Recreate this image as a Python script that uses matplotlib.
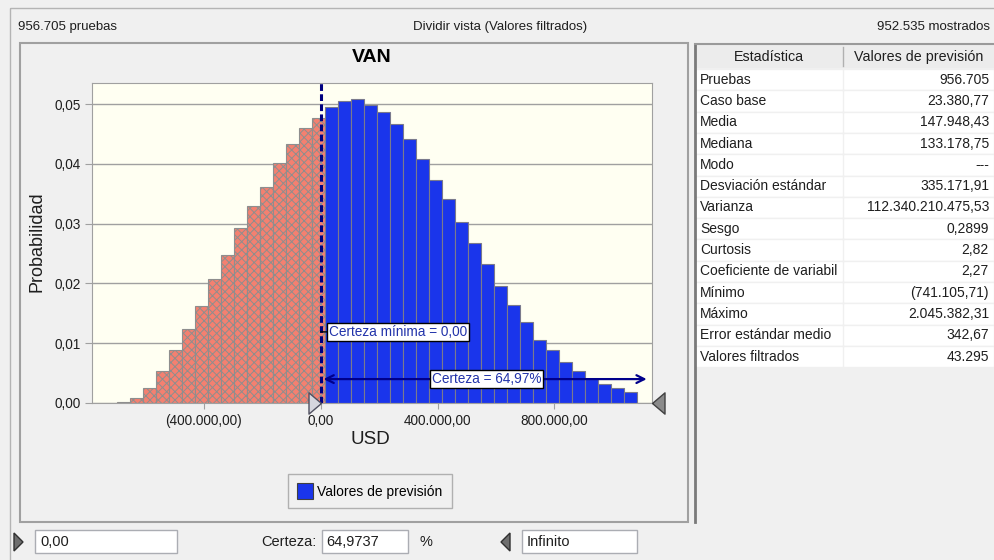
import matplotlib.pyplot as plt
from matplotlib.patches import Rectangle, Polygon, Patch

plt.rcParams['font.family'] = ['Liberation Sans', 'DejaVu Sans']
plt.rcParams['hatch.linewidth'] = 0.7

# --- datos ---
bin_start = -696500
bin_width = 44500
prob_fuera = [0.0001, 0.0008, 0.0025, 0.0054, 0.0088, 0.0123, 0.0163, 0.0207,
              0.0247, 0.0293, 0.0330, 0.0362, 0.0402, 0.0433, 0.0460, 0.0477]
prob_dentro = [0.0495, 0.0505, 0.0508, 0.0498, 0.0487, 0.0467, 0.0441, 0.0408,
               0.0374, 0.0341, 0.0303, 0.0267, 0.0232, 0.0196, 0.0164, 0.0135,
               0.0106, 0.0088, 0.0069, 0.0054, 0.0040, 0.0032, 0.0025, 0.0018]
x_ticks = [-400000, 0, 400000, 800000]
x_tick_labels = ["(400.000,00)", "0,00", "400.000,00", "800.000,00"]
y_ticks = [0.0, 0.01, 0.02, 0.03, 0.04, 0.05]
y_tick_labels = ["0,00", "0,01", "0,02", "0,03", "0,04", "0,05"]
x_lim = (-784000, 1135000)
y_lim = (0, 0.0536)
certeza_min = 0.0
certeza_texto = "Certeza = 64,97%"

stat_names = ["Pruebas", "Caso base", "Media", "Mediana", "Modo",
              "Desviación estándar", "Varianza", "Sesgo", "Curtosis",
              "Coeficiente de variabil", "Mínimo", "Máximo",
              "Error estándar medio", "Valores filtrados"]
stat_values = ["956.705", "23.380,77", "147.948,43", "133.178,75", "---",
               "335.171,91", "112.340.210.475,53", "0,2899", "2,82", "2,27",
               "(741.105,71)", "2.045.382,31", "342,67", "43.295"]

ROJO = '#F48070'
AZUL = '#1A35EB'
GRIS = '#A0A0A0'
TXT = '#1E1E1E'

fig = plt.figure(figsize=(9.94, 5.6), dpi=100)
fig.patch.set_facecolor('#F0F0F0')

# capa de fondo en pixeles para el marco de la ventana
ov = fig.add_axes([0, 0, 1, 1], zorder=0)
ov.set_xlim(0, 994)
ov.set_ylim(560, 0)
ov.axis('off')

ov.add_patch(Rectangle((10, 8), 990, 560, fill=False, ec='#B4B4B4', lw=1))
ov.add_patch(Rectangle((20, 43), 668, 479, fc='#F0F0F0', ec=GRIS, lw=1.5))

ov.text(18, 27, "956.705 pruebas", fontsize=9.5, va='center', color=TXT)
ov.text(500, 27, "Dividir vista (Valores filtrados)", fontsize=9.5,
        va='center', ha='center', color=TXT)
ov.text(990, 27, "952.535 mostrados", fontsize=9.5, va='center', ha='right',
        color=TXT)

# tabla de estadisticas
tab_x0, tab_x1, col_x = 695, 994, 843
ov.add_patch(Rectangle((tab_x0, 44), tab_x1 - tab_x0, 24, fc='#ECECEC',
                       ec='none'))
ov.plot([col_x, col_x], [47, 66], color='#B0B0B0', lw=1)
ov.text((tab_x0 + col_x) / 2, 57, "Estadística", ha='center', va='center',
        fontsize=10.3, color=TXT)
ov.text((col_x + tab_x1) / 2, 57, "Valores de previsión", ha='center',
        va='center', fontsize=10.3, color=TXT)
row_h = 21.3
for i, (nm, val) in enumerate(zip(stat_names, stat_values)):
    y0 = 69 + i * row_h
    ov.add_patch(Rectangle((tab_x0, y0), tab_x1 - tab_x0, row_h, fc='white',
                           ec='#F0F0F0', lw=1))
    ov.plot([col_x, col_x], [y0, y0 + row_h], color='#F0F0F0', lw=1)
    ov.text(tab_x0 + 5, y0 + row_h / 2, nm, va='center', fontsize=10,
            color=TXT)
    ov.text(tab_x1 - 5, y0 + row_h / 2, val, va='center', ha='right',
            fontsize=10, color=TXT)
ov.plot([tab_x0, tab_x0], [44, 522], color='#7A7A7A', lw=2)
ov.plot([tab_x0, tab_x1], [44, 44], color='#9A9A9A', lw=1.5)

# controles inferiores
ov.add_patch(Polygon([(14, 533), (23, 542), (14, 551)], fc='#6E6E6E',
                     ec='#303030', lw=1))
ov.add_patch(Rectangle((35, 530), 142, 23, fc='white', ec='#ABADB3', lw=1))
ov.text(40, 542, "0,00", va='center', fontsize=10.5, color=TXT)
ov.text(316, 542, "Certeza:", va='center', ha='right', fontsize=10.5,
        color=TXT)
ov.add_patch(Rectangle((322, 530), 86, 23, fc='white', ec='#ABADB3', lw=1))
ov.text(326, 542, "64,9737", va='center', fontsize=10.5, color=TXT)
ov.text(420, 542, "%", va='center', fontsize=10.5, color=TXT)
ov.add_patch(Polygon([(510, 533), (501, 542), (510, 551)], fc='#6E6E6E',
                     ec='#303030', lw=1))
ov.add_patch(Rectangle((522, 530), 115, 23, fc='white', ec='#ABADB3', lw=1))
ov.text(527, 542, "Infinito", va='center', fontsize=10.5, color=TXT)

# grafico principal
ax = fig.add_axes([91.7 / 994, 1 - 403 / 560, 560.6 / 994, 320.3 / 560],
                  zorder=2)
ax.set_facecolor('#FFFFF2')

n_fuera = len(prob_fuera)
lefts = [bin_start + i * bin_width for i in range(n_fuera + len(prob_dentro))]
ax.bar(lefts[:n_fuera], prob_fuera, width=bin_width, align='edge', color=ROJO,
       edgecolor='#8E8E8E', hatch='xxxx', lw=0.8, zorder=2)
ax.bar(lefts[n_fuera:], prob_dentro, width=bin_width, align='edge', color=AZUL,
       edgecolor='#7A7A8C', lw=0.8, zorder=2)

ax.set_xlim(*x_lim)
ax.set_ylim(*y_lim)
ax.set_xticks(x_ticks)
ax.set_xticklabels(x_tick_labels)
ax.set_yticks(y_ticks)
ax.set_yticklabels(y_tick_labels)
ax.yaxis.grid(True, color=GRIS, lw=1)
ax.set_axisbelow(True)
for sp in ax.spines.values():
    sp.set_color(GRIS)
ax.tick_params(axis='both', colors=GRIS, labelcolor=TXT, labelsize=9.8)
ax.tick_params(axis='y', length=5, pad=3)
ax.tick_params(axis='x', length=4, pad=4)

ax.text(0.5, 1.080, "VAN", transform=ax.transAxes, ha='center', va='center',
        fontweight='bold', fontsize=14, color='black')
ax.set_ylabel("Probabilidad", fontsize=13, va='center', color=TXT)
ax.yaxis.set_label_coords(-0.0976, 0.504)
ax.set_xlabel("USD", fontsize=13.5, va='center', color=TXT)
ax.xaxis.set_label_coords(0.497, -0.1155)

# linea de certeza minima
ax.axvline(certeza_min, color='#000080', lw=2.2, ls=(0, (2.2, 1.1)), zorder=4)
ax.annotate("Certeza mínima = 0,00", xy=(certeza_min, 0.0119),
            xytext=(6, 0), textcoords='offset points', ha='left', va='center',
            color='#2233AA', fontsize=9.8,
            bbox=dict(boxstyle='square,pad=0.15', fc='white', ec='black',
                      lw=1),
            arrowprops=dict(arrowstyle='-', color='black', lw=1,
                            shrinkA=0, shrinkB=0), zorder=5)

# flecha de certeza hasta infinito
ax.annotate("", xy=(0.99, 0.004), xycoords=('axes fraction', 'data'),
            xytext=(certeza_min, 0.004), textcoords='data',
            arrowprops=dict(arrowstyle='<->', color='#00008B', lw=1.6,
                            mutation_scale=14, shrinkA=2, shrinkB=0),
            zorder=5)
ax.text((certeza_min + x_lim[1]) / 2, 0.004, certeza_texto, ha='center',
        va='center', color='#2233AA', fontsize=9.8, zorder=6,
        bbox=dict(boxstyle='square,pad=0.15', fc='white', ec='black', lw=1))

# marcadores de los limites
ax.plot([certeza_min], [0], marker=[(0, 0), (-1, 0.85), (-1, -0.85), (0, 0)],
        ms=18, mfc='#D6D6DE', mec='#505060', mew=1, clip_on=False, zorder=6)
ax.plot([1], [0], marker=[(0, 0), (1, 0.85), (1, -0.85), (0, 0)],
        transform=ax.transAxes, ms=18, mfc='#8A8A8A', mec='#404040', mew=1,
        clip_on=False, zorder=6)

fig.legend(handles=[Patch(fc=AZUL, ec='#404040', lw=0.8)],
           labels=["Valores de previsión"], loc='center',
           bbox_to_anchor=(370 / 994, 1 - 491 / 560), frameon=True,
           fancybox=False, edgecolor=GRIS, facecolor='#F0F0F0',
           handlelength=1.1, handleheight=1.3, fontsize=10, borderpad=0.65,
           handletextpad=0.35, borderaxespad=0)

fig.savefig("out.png", dpi=100, facecolor=fig.get_facecolor())
